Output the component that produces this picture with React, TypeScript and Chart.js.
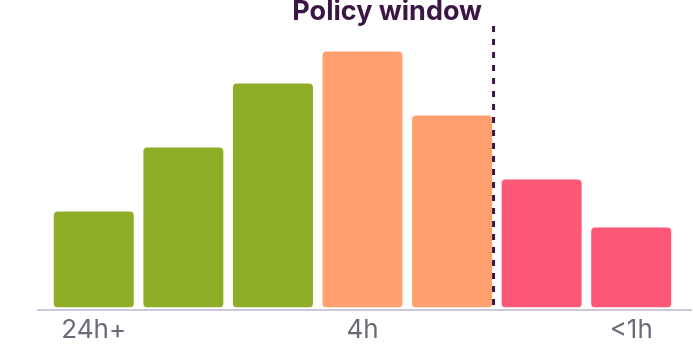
import React, { useEffect, useRef } from "react";
import { Chart, registerables } from "chart.js";

Chart.register(...registerables);

const categories = ["24h+", "", "", "4h", "", "", "<1h"];
const values = [6, 10, 14, 16, 12, 8, 5];
const barColors = ["#8fad27", "#8fad27", "#8fad27", "#ffa06e", "#ffa06e", "#ff5777", "#ff5777"];
const policyLabel = "Policy window";
const policyAfterIndex = 4;

const W = 693;
const H = 347;

const overlay = {
  id: "overlay",
  afterDatasetsDraw(chart: any) {
    const { ctx, chartArea } = chart;
    ctx.save();
    // baseline
    ctx.strokeStyle = "#bdb6cc";
    ctx.lineWidth = 1.5;
    ctx.beginPath();
    ctx.moveTo(37, chartArea.bottom + 2.5);
    ctx.lineTo(692, chartArea.bottom + 2.5);
    ctx.stroke();
    // policy dashed line
    const bar = chart.getDatasetMeta(0).data[policyAfterIndex];
    const x = bar.x + bar.width / 2 + 1.5;
    ctx.strokeStyle = "#3b1645";
    ctx.lineWidth = 3;
    ctx.setLineDash([6, 7]);
    ctx.beginPath();
    ctx.moveTo(x, 26);
    ctx.lineTo(x, chartArea.bottom + 2.5);
    ctx.stroke();
    ctx.setLineDash([]);
    ctx.fillStyle = "#3b1645";
    ctx.font = "bold 27px Inter";
    ctx.textAlign = "right";
    ctx.textBaseline = "alphabetic";
    ctx.fillText(policyLabel, x - 11.5, 20);
    ctx.restore();
  },
};

export default function App() {
  const ref = useRef<HTMLCanvasElement>(null);
  useEffect(() => {
    const chart = new Chart(ref.current!, {
      type: "bar",
      data: {
        labels: categories,
        datasets: [
          {
            data: values,
            backgroundColor: barColors,
            borderRadius: 4,
            borderSkipped: false,
            categoryPercentage: 1,
            barPercentage: 0.893,
          },
        ],
      },
      options: {
        animation: false,
        responsive: false,
        devicePixelRatio: 1,
        layout: { padding: { left: 49, right: 17, top: 35.5, bottom: 0 } },
        plugins: { legend: { display: false }, tooltip: { enabled: false } },
        scales: {
          x: {
            grid: { display: false, drawTicks: false },
            border: { display: false },
            afterFit: (scale: any) => {
              scale.height = 39.5;
            },
            ticks: {
              autoSkip: false,
              maxRotation: 0,
              padding: 12.5,
              color: "#6b6b78",
              font: { family: "Inter", size: 26, lineHeight: 0.8 },
            },
          },
          y: { display: false, min: 0, max: 17 },
        },
      },
      plugins: [overlay],
    });
    return () => chart.destroy();
  }, []);
  return (
    <div style={{ position: "fixed", left: 0, top: 0, width: W, height: H, background: "#fff" }}>
      <canvas ref={ref} width={W} height={H} />
    </div>
  );
}
